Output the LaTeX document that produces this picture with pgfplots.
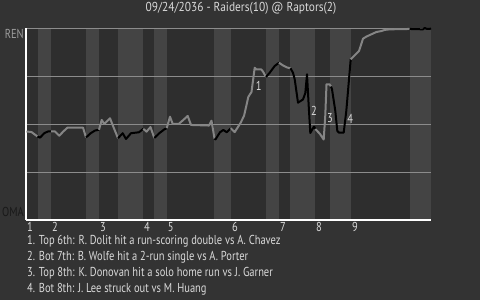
\documentclass[border=0pt]{standalone}
\usepackage{pgfplots}
\pgfplotsset{compat=1.18}
\usepackage{fontspec}
\setmainfont[FakeStretch=0.81]{PT Sans}
\newfontfamily\titlefamily[FakeStretch=0.88]{PT Sans}

\definecolor{bgc}{HTML}{333333}
\definecolor{banddark}{HTML}{2E2E2E}
\definecolor{bandlight}{HTML}{444444}
\definecolor{gridc}{HTML}{8C8C8C}
\definecolor{awayc}{HTML}{858585}
\definecolor{homec}{HTML}{000000}
\definecolor{txt}{HTML}{D9D9D9}

\newcommand{\chartfont}{\fontsize{13}{15}\selectfont}

\begin{document}
\begin{tikzpicture}[x=1bp,y=1bp]
\path (0,0) rectangle (480,300);
\begin{axis}[
  set layers,
  at={(26bp,80bp)}, anchor=south west,
  width=405bp, height=192bp, scale only axis,
  xmin=0, xmax=405, ymin=0, ymax=1,
  clip=false,
  axis x line*=bottom, axis y line*=left,
  axis line style={white, line width=1.2bp, -},
  ytick={0.25,0.5,0.75,1}, yticklabels={},
  ymajorgrids, grid style={gridc, line width=0.9bp},
  xtick={0,25,73,117,140.7,205,253,289,325},
  xticklabels={1,2,3,4,5,6,7,8,9},
  major tick length=0pt,
  xticklabel style={anchor=north west, text=txt, font=\chartfont,
    inner sep=0pt, yshift=-2.5bp, xshift=1bp},
]
% page background and half-inning bands: top halves dark, bottom halves light
\begin{pgfonlayer}{axis background}
\fill[bgc] (rel axis cs:-0.064198,-0.416667) rectangle (rel axis cs:1.120988,1.145833);
\fill[banddark] (axis cs:0,0) rectangle (axis cs:405,1);
\fill[bandlight] (axis cs:11.7,0) rectangle (axis cs:25,1);
\fill[bandlight] (axis cs:60,0) rectangle (axis cs:73,1);
\fill[bandlight] (axis cs:92,0) rectangle (axis cs:117,1);
\fill[bandlight] (axis cs:128,0) rectangle (axis cs:140.7,1);
\fill[bandlight] (axis cs:188,0) rectangle (axis cs:205,1);
\fill[bandlight] (axis cs:240,0) rectangle (axis cs:253,1);
\fill[bandlight] (axis cs:264,0) rectangle (axis cs:289,1);
\fill[bandlight] (axis cs:304,0) rectangle (axis cs:325,1);
\fill[bandlight] (axis cs:384,0) rectangle (axis cs:405,1);
\end{pgfonlayer}

% win probability, one piece per half-inning
\pgfplotsset{every axis plot/.append style={line width=2bp, line join=round}}
\addplot[awayc] coordinates {(0.5,0.461) (5.5,0.458) (11.5,0.435)};
\addplot[homec] coordinates {(11.5,0.435) (14,0.429) (18.5,0.453) (22.5,0.462) (25,0.462)};
\addplot[awayc] coordinates {(25,0.462) (29,0.461) (33.3,0.439) (37.3,0.461) (41.5,0.481) (57,0.481) (60,0.430)};
\addplot[homec] coordinates {(60,0.430) (64.7,0.452) (69,0.466) (73,0.470)};
\addplot[awayc] coordinates {(73,0.470) (75.7,0.521) (78.3,0.5) (84,0.530) (87.3,0.486) (92,0.426)};
\addplot[homec] coordinates {(92,0.426) (96.7,0.452) (100,0.422) (105,0.452) (113,0.457) (117.3,0.475)};
\addplot[awayc] coordinates {(117.3,0.475) (120.5,0.460) (124.5,0.484) (128.3,0.427)};
\addplot[homec] coordinates {(128.3,0.427) (133.3,0.452) (138.3,0.472) (140.7,0.478)};
\addplot[awayc] coordinates {(140.7,0.478) (144,0.538) (146.7,0.5) (152.7,0.5) (157.7,0.523) (161.7,0.542) (165,0.495) (183,0.492) (185.5,0.517) (188.5,0.424)};
\addplot[homec] coordinates {(188.5,0.424) (189.5,0.420) (194,0.457) (197.3,0.469) (200.7,0.457) (204.7,0.478)};
\addplot[awayc] coordinates {(204.7,0.478) (208.7,0.458) (214.5,0.505) (218,0.542) (220.3,0.594) (222.3,0.641) (225.5,0.667) (228.7,0.793) (230.3,0.784) (235.3,0.784) (237,0.773) (240,0.745)};
\addplot[homec] coordinates {(240,0.745) (243.7,0.767) (248.7,0.802) (253,0.819)};
\addplot[awayc] coordinates {(253,0.819) (257,0.805) (261.3,0.794) (264.5,0.790)};
\addplot[homec] coordinates {(264.5,0.790) (267,0.767) (268.7,0.733) (272,0.611) (277,0.628) (279.3,0.661) (281,0.759) (282.7,0.594) (284.3,0.453) (288,0.487) (289.3,0.474)};
\addplot[awayc] coordinates {(289.3,0.474) (294,0.448) (297.7,0.419) (299.3,0.547) (300.5,0.707) (303.5,0.707) (305,0.695)};
\addplot[homec] coordinates {(305,0.695) (306,0.681) (309.3,0.568) (311.3,0.464) (313,0.455) (317.7,0.455) (320.3,0.568) (323,0.733) (324.7,0.837)};
\addplot[awayc] coordinates {(324.7,0.837) (328.7,0.858) (333,0.880) (337,0.944) (340.3,0.955) (345.3,0.967) (350.3,0.979) (355.3,0.984) (358.7,0.990) (363.7,0.993) (383.7,0.995)};
\addplot[homec] coordinates {(383.7,0.995) (397,0.993) (398.7,1.0) (401,0.995) (403.7,0.995) (405,0.998)};

% key plays
\node[text=txt, font=\chartfont, inner sep=0pt] at (axis cs:232.7,0.698) {1};
\node[text=txt, font=\chartfont, inner sep=0pt] at (axis cs:288,0.570) {2};
\node[text=txt, font=\chartfont, inner sep=0pt] at (axis cs:304,0.529) {3};
\node[text=txt, font=\chartfont, inner sep=0pt] at (axis cs:324.3,0.524) {4};

% team labels
\node[anchor=east, inner sep=0pt, text=gridc!85!white, font=\chartfont] at (axis cs:-2,0.967) {REN};
\node[anchor=east, inner sep=0pt, text=black!90, font=\chartfont] at (axis cs:-2,0.043) {OMA};
\end{axis}

\node[text=txt, font=\titlefamily\chartfont, inner sep=0pt] at (241,292) {09/24/2036 - Raiders(10) @ Raptors(2)};
\begin{scope}[every node/.style={anchor=west, text=txt, font=\chartfont, inner sep=0pt}]
\node at (27,58.5) {1. Top 6th: R. Dolit hit a run-scoring double vs A. Chavez};
\node at (27,42.5) {2. Bot 7th: B. Wolfe hit a 2-run single vs A. Porter};
\node at (27,26.5) {3. Top 8th: K. Donovan hit a solo home run vs J. Garner};
\node at (27,10.5) {4. Bot 8th: J. Lee struck out vs M. Huang};
\end{scope}
\end{tikzpicture}
\end{document}
